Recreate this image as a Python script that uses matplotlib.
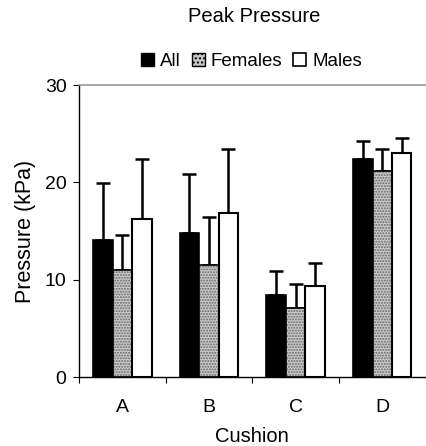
import numpy as np
import matplotlib
matplotlib.use("Agg")
import matplotlib.pyplot as plt
from matplotlib.patches import Patch

plt.rcParams['font.family'] = ['Liberation Sans', 'DejaVu Sans']

cushions = ['A', 'B', 'C', 'D']
series = ['All', 'Females', 'Males']
mean_all = [14.1, 14.8, 8.4, 22.4]
sd_all = [5.8, 6.1, 2.5, 1.8]
mean_fem = [11.0, 11.5, 7.1, 21.2]
sd_fem = [3.6, 4.9, 2.5, 2.2]
mean_male = [16.2, 16.9, 9.4, 23.0]
sd_male = [6.2, 6.5, 2.3, 1.6]

fig = plt.figure(figsize=(4.26, 4.46), dpi=100)
ax = fig.add_axes([0.1854, 0.1547, 0.8136, 0.6547])

x = np.arange(len(cushions))
w = 0.225

def errs(m, s):
    return [np.zeros(len(m)), s]

# All
ax.bar(x - w, mean_all, w, color='black', edgecolor='black', linewidth=1.2, zorder=2)
ax.errorbar(x - w, mean_all, yerr=errs(mean_all, sd_all), fmt='none', ecolor='black',
            elinewidth=1.8, capsize=5, capthick=1.8, zorder=1)
# Females: stippled grey
ax.bar(x, mean_fem, w, color='#cccccc', edgecolor='#666666', hatch='......', linewidth=0, zorder=2)
ax.bar(x, mean_fem, w, fill=False, edgecolor='black', linewidth=1.2, zorder=3)
ax.errorbar(x, mean_fem, yerr=errs(mean_fem, sd_fem), fmt='none', ecolor='black',
            elinewidth=1.8, capsize=5, capthick=1.8, zorder=1)
# Males
ax.bar(x + w, mean_male, w, color='white', edgecolor='black', linewidth=1.5, zorder=2)
ax.errorbar(x + w, mean_male, yerr=errs(mean_male, sd_male), fmt='none', ecolor='black',
            elinewidth=1.8, capsize=5, capthick=1.8, zorder=1)

ax.set_xlim(-0.5, 3.5)
ax.set_ylim(0, 30)
ax.set_yticks([0, 10, 20, 30])
ax.tick_params(axis='y', labelsize=14, length=4, width=0.8, direction='out', pad=5)
ax.set_xticks(x)
ax.set_xticklabels(cushions, fontsize=14)
ax.tick_params(axis='x', which='major', length=0, pad=16)
ax.set_xticks([-0.5, 0.5, 1.5, 2.5], minor=True)
ax.tick_params(axis='x', which='minor', length=4, width=0.8, direction='out')

for s in ['left', 'bottom']:
    ax.spines[s].set_linewidth(1.0)
ax.spines['top'].set_color('#9a9a9a')
ax.spines['top'].set_linewidth(1.2)
ax.spines['right'].set_color('#cccccc')

ax.set_xlabel('Cushion', fontsize=14.5, labelpad=8)
ax.set_ylabel('Pressure (kPa)', fontsize=15.5, labelpad=6)

fig.text(0.597, 0.962, 'Peak Pressure', ha='center', va='center', fontsize=14.5)

handles = [Patch(facecolor='black', edgecolor='black'),
           Patch(facecolor='#c8c8c8', edgecolor='black', hatch='....'),
           Patch(facecolor='white', edgecolor='black', linewidth=1.2)]
fig.legend(handles, series, loc='center', bbox_to_anchor=(0.59, 0.862), ncol=3,
           frameon=False, fontsize=13.5, handlelength=0.7, handleheight=0.7,
           handletextpad=0.3, columnspacing=0.6)

fig.savefig('out.png', dpi=100)
